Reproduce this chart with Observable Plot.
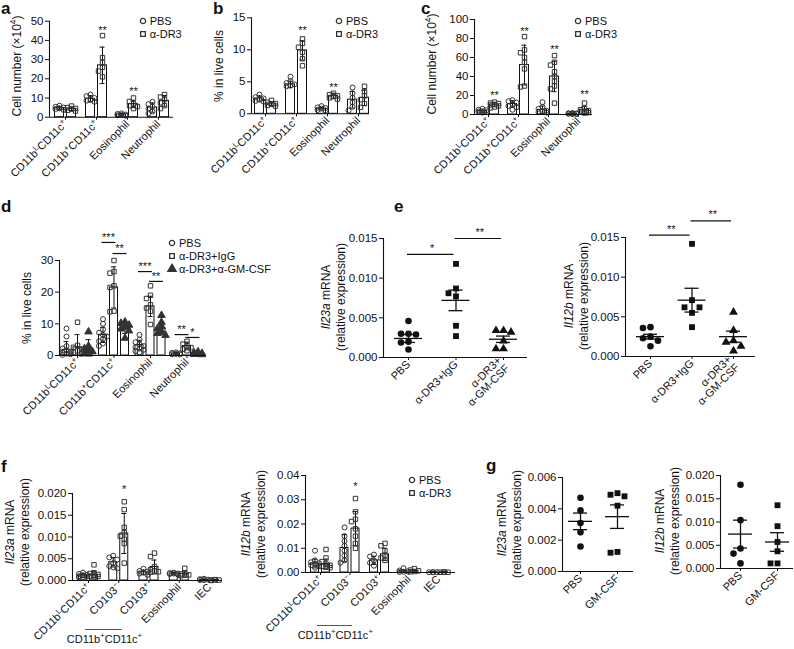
<!DOCTYPE html>
<html><head><meta charset="utf-8">
<script src="https://cdn.jsdelivr.net/npm/d3@7"></script>
<script src="https://cdn.jsdelivr.net/npm/@observablehq/plot@0.6"></script>
<style>
body{margin:0;background:#fff;font-family:"Liberation Sans",Arial,Helvetica,sans-serif;color:#111}
#fig{position:relative;width:794px;height:649px;overflow:hidden;background:#fff}
.letter{position:absolute;font-weight:bold;font-size:17px;line-height:17px}
.ylab{position:absolute;white-space:nowrap;font-size:12px;line-height:14.5px;text-align:center;transform:translate(-50%,-50%) rotate(-90deg)}
.ylab sup,.glab sup{font-size:70%;line-height:0}
.leg{position:absolute;font-size:11px}
.leg div{display:flex;align-items:center;white-space:nowrap}
.leg svg{margin-right:3px;overflow:visible}
.glab{position:absolute;font-size:11px;white-space:nowrap;transform:translate(-50%,-50%)}
.gline{position:absolute;height:1px;background:#555}
</style></head><body><div id="fig"></div><script>
// ================= DATA =================
// panel a : cell number (x10^4)
const catsA = ["CD11b{L}CD11c{+}", "CD11b{+}CD11c{+}", "Eosinophil", "Neutrophil"];
const groups2 = ["PBS", "α-DR3"];
const meanA = [[4.8, 9.6, 1.4, 5.0], [4.4, 27.0, 6.8, 8.5]];
const sdA = [[0.8, 1.6, 0.4, 2.4], [0.9, 9.5, 1.8, 2.8]];
const ptsA = [
  [[6.0,5.4,5.0,4.6,4.2,3.8],[11.8,11.0,10.0,9.0,8.6,8.0],[2.0,1.7,1.4,1.2,1.0,0.8],[8.0,6.8,5.5,4.5,3.0,2.0]],
  [[5.8,5.0,4.6,4.2,3.6,3.2],[42.5,31.0,28.5,26.0,24.0,21.0],[10.0,8.2,7.0,6.0,5.5,4.5],[11.8,10.5,9.2,7.5,6.0,4.5]]
];
const starsA = [{cat:1, grp:1, y:46, t:"**"}, {cat:2, grp:1, y:14.5, t:"**"}];

// panel b : % in live cells
const meanB = [[2.4, 4.6, 0.8, 2.2], [1.6, 9.9, 2.8, 2.5]];
const sdB = [[0.4, 0.5, 0.2, 1.3], [0.3, 1.5, 0.4, 1.2]];
const ptsB = [
  [[3.0,2.6,2.4,2.2,2.0,1.9],[5.8,5.1,4.8,4.6,4.4,4.3],[1.2,1.0,0.9,0.8,0.6,0.5],[4.1,3.2,2.5,1.8,1.1,0.5]],
  [[2.1,1.8,1.6,1.5,1.3,1.2],[11.7,11.0,10.4,9.6,8.6,7.5],[3.2,3.0,2.8,2.7,2.5,2.3],[4.3,3.5,2.8,2.2,1.6,1.0]]
];
const starsB = [{cat:1, grp:1, y:13.3, t:"**"}, {cat:2, grp:1, y:4.4, t:"**"}];

// panel c : cell number (x10^4)
const meanC = [[3.5, 11.0, 5.0, 1.0], [10.5, 52.0, 40.0, 5.0]];
const sdC = [[1.2, 3.5, 3.8, 0.4], [2.0, 21.0, 16.0, 3.6]];
const ptsC = [
  [[6,5,4.5,3.5,3,2.5,2],[15,14,12.5,11,9,7.5,5],[13,8,6,4,3,2.5,2],[1.6,1.3,1.1,0.9,0.8,0.6,0.5]],
  [[13,12,11.5,10.5,10,9,8,7],[82,68,65,60,55,48,30,29],[62,55,52,45,40,35,30,27,12],[12,6,5,4,3,2.5,2,1.5]]
];
const starsC = [{cat:0,grp:1,y:22,t:"**"},{cat:1,grp:1,y:89,t:"**"},{cat:2,grp:1,y:70.5,t:"**"},{cat:3,grp:1,y:23,t:"**"}];

// panel d : % in live cells, three groups
const groupsD = ["PBS", "α-DR3+IgG", "α-DR3+α-GM-CSF"];
const meanD = [[1.8, 6.5, 3.3, 0.6], [2.6, 21.5, 15.5, 3.0], [2.0, 8.8, 8.6, 0.7]];
const sdD = [[2.6, 2.4, 1.5, 0.3], [4.0, 6.5, 3.2, 1.2], [3.0, 1.8, 1.9, 0.3]];
const ptsD = [
  [[8.5,6.0,3.0,2.2,1.6,1.2,0.9,0.6,0.4,0.2],[11.5,10.0,8.2,7.2,6.5,6.0,5.2,4.5,3.8,3.0],[6.5,5.0,4.2,3.6,3.0,2.6,2.2,1.8,1.4,1.0],[1.0,0.8,0.7,0.5,0.4,0.3]],
  [[10.5,3.2,2.6,2.0,1.5,1.0,0.5],[30.0,26.5,26.0,22.0,21.5,14.0,13.8],[22.0,19.0,18.0,16.0,15.0,14.0,9.8],[4.5,3.6,3.0,2.5,2.0,1.5]],
  [[7.5,3.0,2.2,1.6,1.2,0.8,0.5],[10.6,10.2,9.6,9.0,8.4,7.8,5.5],[12.7,10.5,9.2,8.5,7.6,7.0,6.4],[1.2,0.9,0.7,0.5,0.4,0.3]]
];
const sigD = [{cat:1,g1:0,g2:1,y:35.7,t:"***"},{cat:1,g1:1,g2:2,y:32.2,t:"**"},{cat:2,g1:0,g2:1,y:26.5,t:"***"},{cat:2,g1:1,g2:2,y:23.4,t:"**"},{cat:3,g1:0,g2:1,y:6.6,t:"**"},{cat:3,g1:1,g2:2,y:5.7,t:"*"}];

// panel e : Il23a / Il12b mRNA, mean ± SEM
const catsE = ["PBS", "α-DR3+IgG", "α-DR3+\nα-GM-CSF"];
const ptsE23 = [[0.0046,0.0030,0.0030,0.0029,0.0020,0.0019,0.0010],[0.0118,0.0087,0.0081,0.0077,0.0040,0.0027],[0.0034,0.0034,0.0032,0.0021,0.0011,0.0011]];
const meanE23 = [0.0024, 0.0072, 0.0023];
const semE23 = [0.0005, 0.0013, 0.0004];
const sigE23 = [{from:0,to:1,y:0.0130,t:"*"},{from:1,to:2,y:0.0150,t:"**"}];
const ptsE12 = [[0.0037,0.0036,0.0025,0.0023,0.0020,0.0013],[0.0142,0.0071,0.0062,0.0062,0.0055,0.0037],[0.0056,0.0033,0.0020,0.0018,0.0013,0.0007]];
const meanE12 = [0.0025, 0.0071, 0.0025];
const semE12 = [0.0003, 0.0015, 0.0007];
const sigE12 = [{from:0,to:1,y:0.0153,t:"**"},{from:1,to:2,y:0.0171,t:"**"}];

// panel f : Il23a / Il12b mRNA by cell type
const catsF = ["CD11b{L}CD11c{+}", "CD103{−}", "CD103{+}", "Eosinophil", "IEC"];
const meanF23 = [[0.0012,0.0042,0.0019,0.0016,0.0002],[0.0013,0.0108,0.0031,0.0015,0.0001]];
const sdF23 = [[0.0004,0.0011,0.0005,0.0002,0.0001],[0.0007,0.0046,0.0016,0.0005,0.0001]];
const ptsF23 = [
  [[0.0018,0.0015,0.0013,0.0012,0.0010,0.0009,0.0008,0.0007],[0.0057,0.0053,0.0048,0.0040,0.0033,0.0030,0.0028],[0.0027,0.0022,0.0020,0.0018,0.0016,0.0013],[0.0018,0.0017,0.0016,0.0016,0.0015,0.0014],[0.0004,0.0003,0.0002,0.0001,0.0001]],
  [[0.0036,0.0018,0.0016,0.0014,0.0012,0.0010,0.0009,0.0008],[0.0181,0.0163,0.0122,0.0110,0.0102,0.0095,0.0085,0.0040],[0.0063,0.0055,0.0032,0.0025,0.0022,0.0020,0.0019],[0.0028,0.0018,0.0015,0.0013,0.0012,0.0011],[0.0002,0.0001,0.0001,0.0001,0.0000]]
];
const starsF23 = [{cat:1,grp:1,y:0.0214,t:"*"}];
const meanF12 = [[0.0037,0.0101,0.0050,0.0006,0.0001],[0.0035,0.0181,0.0075,0.0007,0.0001]];
const sdF12 = [[0.0018,0.0055,0.0017,0.0004,0.0001],[0.0020,0.0070,0.0025,0.0004,0.0001]];
const ptsF12 = [
  [[0.0090,0.0050,0.0042,0.0038,0.0035,0.0030,0.0026,0.0020],[0.0186,0.0150,0.0130,0.0110,0.0090,0.0070,0.0050,0.0040],[0.0074,0.0066,0.0050,0.0040,0.0028],[0.0018,0.0008,0.0005,0.0003,0.0002],[0.0002,0.0001,0.0001,0.0001]],
  [[0.0095,0.0060,0.0045,0.0035,0.0030,0.0025,0.0022,0.0020],[0.0305,0.0250,0.0220,0.0210,0.0180,0.0150,0.0120,0.0100],[0.0120,0.0110,0.0090,0.0070,0.0060,0.0050],[0.0016,0.0010,0.0007,0.0004,0.0003],[0.0002,0.0001,0.0001,0.0001]]
];
const starsF12 = [{cat:1,grp:1,y:0.0363,t:"*"}];

// panel g : PBS vs GM-CSF, mean ± SEM
const catsG = ["PBS", "GM-CSF"];
const ptsG23 = [[0.0047,0.0039,0.0031,0.0025,0.0016],[0.0050,0.0049,0.0048,0.0042,0.00125,0.0012]];
const meanG23 = [0.0032, 0.0035];
const semG23 = [0.00053, 0.00075];
const ptsG12 = [[0.0180,0.0104,0.0043,0.0032,0.0011],[0.0136,0.0091,0.0057,0.0037,0.0011,0.0011]];
const meanG12 = [0.0074, 0.0057];
const semG12 = [0.0030, 0.0020];

// ================= DRAWING =================
const FONT = '"Liberation Sans", Arial, Helvetica, sans-serif';
const INK = "#111";
const PT = "#333";
const fig = document.getElementById("fig");

function dodge(vals, ypx, sp, max) {
  const order = vals.map((v, i) => i).sort((a, b) => vals[b] - vals[a]);
  const cands = [0];
  for (let k = 1; k * sp <= max + 1e-9; k++) cands.push(-k * sp, k * sp);
  const placed = [], out = new Array(vals.length).fill(0);
  for (const i of order) {
    const y = ypx(vals[i]);
    let best = 0, bestS = Infinity;
    for (const c of cands) {
      let s = Math.abs(c) * 0.001;
      for (const p of placed) { const d = Math.hypot(p.x - c, p.y - y); if (d < sp) s += sp - d; }
      if (s < bestS) { bestS = s; best = c; }
    }
    placed.push({x: best, y}); out[i] = best;
  }
  return out;
}

function supify(root) {
  d3.select(root).selectAll("text").each(function() {
    const s = this.textContent;
    if (!s.includes("{")) return;
    const el = d3.select(this); el.text(null);
    s.split(/(\{[^}]*\})/).forEach(part => {
      if (!part) return;
      if (part[0] === "{") el.append("tspan").attr("baseline-shift", "super").attr("font-size", "70%").text(part.slice(1, -1));
      else el.append("tspan").text(part);
    });
  });
}

function panel(o) {
  const n = o.cats.length;
  const xd = [(o.ax0 - o.c0) / o.sp, (o.ax1 - o.c0) / o.sp];
  const u = px => px / o.sp;
  const ypx = v => o.py0 - (v - o.yd[0]) / (o.yd[1] - o.yd[0]) * (o.py0 - o.py1);
  const marks = o.build({u, ypx});
  const plot = Plot.plot({
    width: o.width, height: o.height,
    marginLeft: o.ax0 - o.left, marginRight: o.left + o.width - o.ax1,
    marginTop: o.py1 - o.top, marginBottom: o.top + o.height - o.py0,
    x: {domain: xd}, y: {domain: o.yd},
    style: {fontFamily: FONT, fontSize: "11px", color: INK, background: "transparent", overflow: "visible"},
    marks: [
      Plot.axisY({ticks: o.yticks, tickFormat: o.yfmt, tickSize: 4, tickPadding: 2, label: null, fontSize: 11.5}),
      Plot.axisX({ticks: d3.range(n), tickFormat: i => o.cats[i], tickRotate: -45, tickSize: 3, tickPadding: 2, label: null}),
      ...marks,
      Plot.ruleX([xd[0]], {stroke: INK, strokeWidth: 1.1}),
      Plot.ruleY([o.yd[0]], {stroke: INK, strokeWidth: 1.1})
    ]
  });
  supify(plot);
  const wrap = document.createElement("div");
  wrap.style.cssText = `position:absolute;left:${o.left}px;top:${o.top}px;width:${o.width}px;height:${o.height}px;`;
  wrap.appendChild(plot);
  fig.appendChild(wrap);
  const sx = plot.scale("x");
  return {px: v => o.left + sx.apply(v)};
}

function barBuild(o) {
  return ({u, ypx}) => {
    const G = o.mean.length;
    const offs = G === 2 ? [-o.off, o.off] : [-o.off, 0, o.off];
    const cx = (i, g) => i + u(offs[g]);
    const bars = [];
    o.mean.forEach((arr, g) => arr.forEach((m, i) => bars.push({x: cx(i, g), m, lo: Math.max(0, m - o.sd[g][i]), hi: m + o.sd[g][i]})));
    const hb = u(o.bw) / 2, hc = u(o.cap) / 2;
    const marks = [
      Plot.rectY(bars, {x1: d => d.x - hb, x2: d => d.x + hb, y1: () => 0, y2: "m", fill: "white", stroke: INK, strokeWidth: 1}),
      Plot.ruleX(bars, {x: "x", y1: "lo", y2: "hi", stroke: INK, strokeWidth: 1}),
      Plot.ruleY(bars, {y: "hi", x1: d => d.x - hc, x2: d => d.x + hc, stroke: INK, strokeWidth: 1}),
      Plot.ruleY(bars.filter(d => d.lo > 0), {y: "lo", x1: d => d.x - hc, x2: d => d.x + hc, stroke: INK, strokeWidth: 1})
    ];
    o.pts.forEach((arr, g) => {
      const pts = [];
      arr.forEach((vals, i) => {
        const dx = dodge(vals, ypx, o.dsp, o.dmax);
        vals.forEach((v, k) => pts.push({x: cx(i, g) + u(dx[k]), v}));
      });
      const filled = o.sym[g] === "triangle";
      marks.push(Plot.dot(pts, {x: "x", y: "v", symbol: o.sym[g], r: filled ? o.r + 0.3 : o.r, stroke: PT, strokeWidth: 1, fill: filled ? PT : "none"}));
    });
    if (o.stars) marks.push(Plot.text(o.stars, {x: d => cx(d.cat, d.grp), y: "y", text: "t", fontSize: 11, fill: INK, dy: 2}));
    if (o.sig) {
      marks.push(
        Plot.ruleY(o.sig, {y: "y", x1: d => cx(d.cat, d.g1) - u(1), x2: d => cx(d.cat, d.g2) + u(2), stroke: INK, strokeWidth: 1.2}),
        Plot.text(o.sig, {x: d => (cx(d.cat, d.g1) + cx(d.cat, d.g2)) / 2, y: "y", text: "t", fontSize: 11, fill: INK, dy: -5})
      );
    }
    return marks;
  };
}

function scatBuild(o) {
  return ({u, ypx}) => {
    const marks = [];
    o.pts.forEach((vals, i) => {
      const dx = dodge(vals, ypx, o.dsp, o.dmax);
      marks.push(Plot.dot(vals.map((v, k) => ({x: i + u(dx[k]), v})), {x: "x", y: "v", symbol: o.sym[i], r: o.r, fill: INK, stroke: "none"}));
    });
    const st = o.mean.map((m, i) => ({i, m, lo: m - o.sem[i], hi: m + o.sem[i]}));
    const hm = u(o.mw), hc = u(o.cw);
    marks.push(
      Plot.ruleY(st, {y: "m", x1: d => d.i - hm, x2: d => d.i + hm, stroke: INK, strokeWidth: 1.3}),
      Plot.ruleX(st, {x: "i", y1: "lo", y2: "hi", stroke: INK, strokeWidth: 1.3}),
      Plot.ruleY(st, {y: "hi", x1: d => d.i - hc, x2: d => d.i + hc, stroke: INK, strokeWidth: 1.3}),
      Plot.ruleY(st, {y: "lo", x1: d => d.i - hc, x2: d => d.i + hc, stroke: INK, strokeWidth: 1.3})
    );
    if (o.sig) {
      marks.push(
        Plot.ruleY(o.sig, {y: "y", x1: d => d.from - u(1), x2: d => d.to - u(2), stroke: INK, strokeWidth: 1.2}),
        Plot.text(o.sig, {x: d => (d.from + d.to) / 2, y: "y", text: "t", fontSize: 11, fill: INK, dy: -6})
      );
    }
    return marks;
  };
}

function letter(x, y, ch) {
  const d = document.createElement("div"); d.className = "letter";
  d.style.left = x + "px"; d.style.top = y + "px"; d.textContent = ch; fig.appendChild(d);
}
function ylab(cx, cy, html) {
  const d = document.createElement("div"); d.className = "ylab";
  d.style.left = cx + "px"; d.style.top = cy + "px"; d.innerHTML = html; fig.appendChild(d);
}
function legend(x, y, items, rowH) {
  const d = document.createElement("div"); d.className = "leg";
  d.style.left = (x - 4) + "px"; d.style.top = (y - rowH / 2) + "px";
  const symMap = {circle: d3.symbolCircle, square: d3.symbolSquare, triangle: d3.symbolTriangle};
  for (const it of items) {
    const row = document.createElement("div"); row.style.height = rowH + "px";
    const svg = d3.create("svg").attr("width", 8).attr("height", 8).attr("viewBox", "-4 -4 8 8");
    const filled = it.sym === "triangle";
    svg.append("path").attr("d", d3.symbol(symMap[it.sym], filled ? 30 : 22)())
      .attr("fill", filled ? PT : "none").attr("stroke", PT).attr("stroke-width", 1.3);
    row.appendChild(svg.node());
    const sp = document.createElement("span"); sp.textContent = it.label; row.appendChild(sp);
    d.appendChild(row);
  }
  fig.appendChild(d);
}
function groupLabel(pan, i1, i2, lineY, html) {
  const x1 = pan.px(i1) - 33, x2 = pan.px(i2) - 27;
  const l = document.createElement("div"); l.className = "gline";
  l.style.left = x1 + "px"; l.style.top = lineY + "px"; l.style.width = (x2 - x1) + "px"; fig.appendChild(l);
  const t = document.createElement("div"); t.className = "glab";
  t.style.left = ((x1 + x2) / 2 + 1) + "px"; t.style.top = (lineY + 10) + "px"; t.innerHTML = html; fig.appendChild(t);
}

const sym2 = ["circle", "square"];
const fmtInt = d3.format("d");

// a
panel({left: 0, top: 0, width: 200, height: 215, ax0: 49, ax1: 173, c0: 65, sp: 31, py0: 116.7, py1: 20.7, yd: [0, 50],
  yticks: [0, 10, 20, 30, 40, 50], yfmt: fmtInt, cats: catsA,
  build: barBuild({mean: meanA, sd: sdA, pts: ptsA, sym: sym2, off: 6, bw: 9, cap: 5, r: 2.5, dsp: 4, dmax: 4, stars: starsA})});
// b
panel({left: 205, top: 0, width: 180, height: 215, ax0: 251, ax1: 369, c0: 265, sp: 31, py0: 113.3, py1: 17.3, yd: [0, 15],
  yticks: [0, 5, 10, 15], yfmt: fmtInt, cats: catsA,
  build: barBuild({mean: meanB, sd: sdB, pts: ptsB, sym: sym2, off: 6, bw: 9, cap: 5, r: 2.5, dsp: 4, dmax: 4, stars: starsB})});
// c
panel({left: 425, top: 0, width: 180, height: 215, ax0: 474, ax1: 592, c0: 488, sp: 30, py0: 114, py1: 19, yd: [0, 100],
  yticks: [0, 20, 40, 60, 80, 100], yfmt: fmtInt, cats: catsA,
  build: barBuild({mean: meanC, sd: sdC, pts: ptsC, sym: sym2, off: 6, bw: 9, cap: 5, r: 2.5, dsp: 4, dmax: 4, stars: starsC})});
// d
panel({left: 0, top: 215, width: 215, height: 215, ax0: 59, ax1: 205, c0: 77, sp: 36.5, py0: 355, py1: 260, yd: [0, 30],
  yticks: [0, 10, 20, 30], yfmt: fmtInt, cats: catsA,
  build: barBuild({mean: meanD, sd: sdD, pts: ptsD, sym: ["circle", "square", "triangle"], off: 11, bw: 8, cap: 5, r: 2.5, dsp: 4, dmax: 4, sig: sigD})});
// e left
panel({left: 340, top: 200, width: 200, height: 230, ax0: 383, ax1: 527, c0: 408, sp: 47.5, py0: 357, py1: 238, yd: [0, 0.015],
  yticks: [0, 0.005, 0.010, 0.015], yfmt: d3.format(".3f"), cats: catsE,
  build: scatBuild({pts: ptsE23, mean: meanE23, sem: semE23, sym: ["circle", "square", "triangle"], r: 3.3, dsp: 7.5, dmax: 8, mw: 14, cw: 7, sig: sigE23})});
// e right
panel({left: 585, top: 195, width: 200, height: 235, ax0: 625, ax1: 755, c0: 650, sp: 41.5, py0: 356, py1: 237, yd: [0, 0.015],
  yticks: [0, 0.005, 0.010, 0.015], yfmt: d3.format(".3f"), cats: catsE,
  build: scatBuild({pts: ptsE12, mean: meanE12, sem: semE12, sym: ["circle", "square", "triangle"], r: 3.3, dsp: 7.5, dmax: 8, mw: 14, cw: 7, sig: sigE12})});
// f left
const fL = panel({left: 0, top: 440, width: 240, height: 209, ax0: 72, ax1: 222, c0: 88, sp: 30.25, py0: 580, py1: 493, yd: [0, 0.02],
  yticks: [0, 0.005, 0.010, 0.015, 0.020], yfmt: d3.format(".3f"), cats: catsF,
  build: barBuild({mean: meanF23, sd: sdF23, pts: ptsF23, sym: sym2, off: 5.5, bw: 8, cap: 5, r: 2.5, dsp: 4, dmax: 4, stars: starsF23})});
// f right
const fR = panel({left: 240, top: 440, width: 240, height: 209, ax0: 305, ax1: 455, c0: 320, sp: 29.5, py0: 572, py1: 475, yd: [0, 0.04],
  yticks: [0, 0.01, 0.02, 0.03, 0.04], yfmt: d3.format(".2f"), cats: catsF,
  build: barBuild({mean: meanF12, sd: sdF12, pts: ptsF12, sym: sym2, off: 5.5, bw: 8, cap: 5, r: 2.5, dsp: 4, dmax: 4, stars: starsF12})});
// g left
panel({left: 520, top: 440, width: 125, height: 209, ax0: 562, ax1: 633, c0: 580, sp: 37, py0: 571, py1: 477, yd: [0, 0.006],
  yticks: [0, 0.002, 0.004, 0.006], yfmt: d3.format(".3f"), cats: catsG,
  build: scatBuild({pts: ptsG23, mean: meanG23, sem: semG23, sym: ["circle", "square"], r: 3.3, dsp: 7, dmax: 8, mw: 12, cw: 7})});
// g right
panel({left: 665, top: 440, width: 129, height: 209, ax0: 720, ax1: 793, c0: 740, sp: 37, py0: 568, py1: 475, yd: [0, 0.02],
  yticks: [0, 0.005, 0.010, 0.015, 0.020], yfmt: d3.format(".3f"), cats: catsG,
  build: scatBuild({pts: ptsG12, mean: meanG12, sem: semG12, sym: ["circle", "square"], r: 3.3, dsp: 7, dmax: 8, mw: 12, cw: 7})});

// annotations
groupLabel(fL, 1, 2, 629, "CD11b<sup>+</sup>CD11c<sup>+</sup>");
groupLabel(fR, 1, 2, 625, "CD11b<sup>+</sup>CD11c<sup>+</sup>");

ylab(17, 66, "Cell number (×10<sup>4</sup>)");
ylab(219, 66, "% in live cells");
ylab(432, 64, "Cell number (×10<sup>4</sup>)");
ylab(27, 308, "% in live cells");
ylab(333, 297, "<i>Il23a</i> mRNA<br>(relative expression)");
ylab(576, 296, "<i>Il12b</i> mRNA<br>(relative expression)");
ylab(17, 532, "<i>Il23a</i> mRNA<br>(relative expression)");
ylab(253, 524, "<i>Il12b</i> mRNA<br>(relative expression)");
ylab(509, 524, "<i>Il23a</i> mRNA<br>(relative expression)");
ylab(667, 521, "<i>Il12b</i> mRNA<br>(relative expression)");

const leg2 = groups2.map((g, i) => ({sym: sym2[i], label: g}));
legend(142.7, 20.7, leg2, 13.6);
legend(339, 20.7, leg2, 13.6);
legend(578, 20.7, leg2, 13.6);
legend(172, 243, groupsD.map((g, i) => ({sym: ["circle", "square", "triangle"][i], label: g})), 13);
legend(412, 480, leg2, 13);

letter(1, 0, "a"); letter(213, 0, "b"); letter(421, 0, "c");
letter(1, 198, "d"); letter(394, 198, "e");
letter(1, 458, "f"); letter(486, 457, "g");
</script></body></html>
